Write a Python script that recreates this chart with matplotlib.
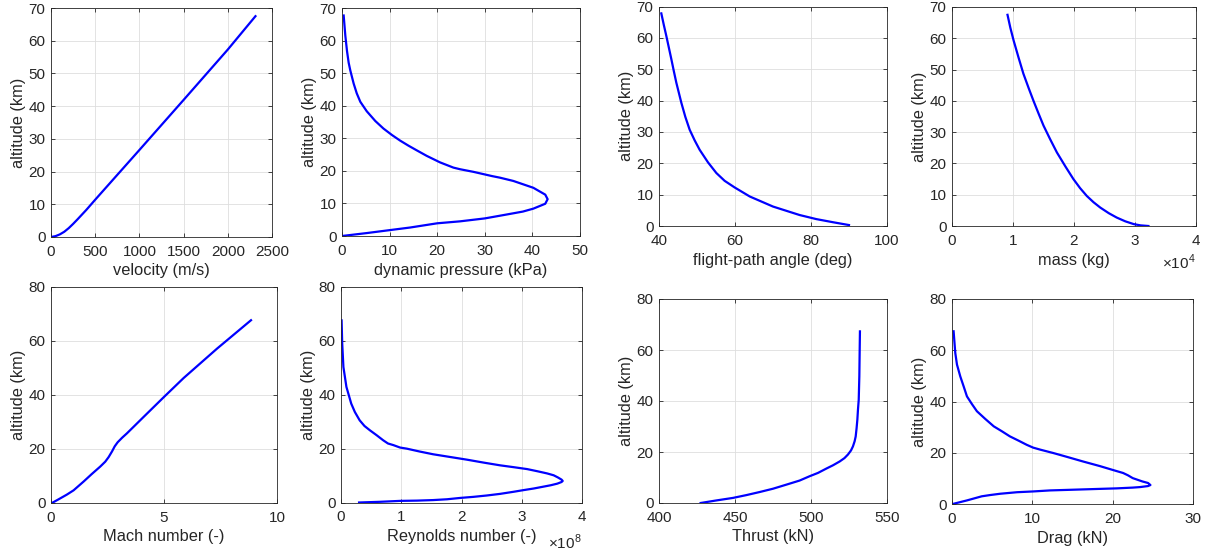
import matplotlib
matplotlib.use("Agg")
import matplotlib.pyplot as plt
from matplotlib.ticker import ScalarFormatter

plt.rcParams["font.family"] = ["Liberation Sans", "DejaVu Sans"]
plt.rcParams["mathtext.fontset"] = "custom"
plt.rcParams["mathtext.rm"] = "Liberation Sans"

# values (altitude in km)
vel = [0, 50, 100, 150, 200, 250, 300, 400, 500, 1000, 1500, 2000, 2313]
vel_alt = [0, 0.25, 0.8, 1.6, 2.7, 4.0, 5.4, 8.3, 11.4, 26.6, 41.9, 57.3, 67.5]

q = [0, 5.2, 10, 14.3, 20, 24.8, 30, 34.6, 38, 40.2, 42.7, 43.2, 42.7, 40.2,
     36, 33.2, 31.5, 29.7, 27.6, 24.8, 23.4, 22.0, 20.6, 19.9, 17.8, 15.7,
     14.0, 12.2, 10.5, 8.7, 7.0, 5.2, 3.85, 3.1, 2.45, 1.75, 1.4, 1.05, 0.7,
     0.35]
q_alt = [0, 0.9, 1.8, 2.6, 3.9, 4.5, 5.4, 6.6, 7.5, 8.4, 9.9, 11.3, 12.7,
         14.8, 16.9, 17.9, 18.4, 19.0, 19.7, 20.5, 21.0, 21.8, 22.6, 23.1,
         24.6, 26.3, 27.7, 29.3, 31.0, 33.0, 35.3, 38.3, 41.2, 43.8, 46.8,
         50.8, 53.2, 56.8, 61.5, 67.7]

gamma = [40.61, 41.27, 41.93, 42.59, 43.25, 43.90, 44.56, 45.22, 45.88, 46.93,
         48.07, 49.39, 50.70, 52.89, 55.09, 57.28, 59.9, 63.9, 70.0, 77.0,
         81.4, 85.8, 90.0]
gamma_alt = [67.8, 64.1, 60.6, 56.9, 53.2, 49.4, 45.7, 42.5, 39.3, 34.8,
             30.7, 27.3, 24.3, 20.3, 16.9, 14.4, 12.3, 9.4, 6.2, 3.5, 2.2,
             1.2, 0.3]

mass = [9100, 9560, 10100, 10900, 11700, 12600, 13400, 14200, 15000, 16100,
        17200, 18600, 19900, 21000, 22100, 23200, 24300, 25700, 27000, 28400,
        29800, 30900, 32200]
mass_alt = [67.5, 63.4, 59.3, 53.9, 48.7, 43.9, 39.8, 35.9, 32.1, 27.7, 23.5,
            19.0, 15.0, 12.1, 9.6, 7.6, 5.9, 4.1, 2.7, 1.5, 0.6, 0.2, 0]

mach = [0.04, 0.3, 0.7, 1.0, 1.45, 1.8, 2.18, 2.4, 2.55, 2.7, 2.82, 2.95,
        3.15, 3.36, 3.7, 4.1, 4.99, 5.87, 7.35, 8.85]
mach_alt = [0, 1.2, 3.1, 4.7, 8.0, 10.7, 13.5, 15.3, 17.0, 19.1, 21.0, 22.5,
            24.2, 25.8, 28.6, 31.9, 39.2, 46.3, 57.2, 67.7]

reyn = [0.30e8, 0.64e8, 0.98e8, 1.26e8, 1.53e8, 1.76e8, 1.98e8, 2.20e8,
        2.42e8, 2.64e8, 2.87e8, 3.03e8, 3.20e8, 3.34e8, 3.48e8, 3.59e8,
        3.66e8, 3.68e8, 3.66e8, 3.60e8, 3.53e8, 3.42e8, 3.26e8, 3.09e8,
        2.87e8, 2.64e8, 2.37e8, 2.09e8, 1.81e8, 1.53e8, 1.31e8, 1.09e8,
        0.98e8, 0.87e8, 0.78e8, 0.70e8, 0.59e8, 0.48e8, 0.39e8, 0.31e8,
        0.23e8, 0.17e8, 0.09e8, 0.04e8, 0.02e8, 0.01e8]
reyn_alt = [0, 0.25, 0.6, 0.7, 0.9, 1.2, 1.7, 2.1, 2.6, 3.2, 4.0, 4.6, 5.2,
            5.8, 6.4, 7.0, 7.6, 8.0, 8.5, 9.3, 10.1, 10.8, 11.6, 12.4, 13.1,
            13.8, 14.8, 15.9, 16.9, 17.9, 18.9, 20.0, 20.4, 21.3, 21.9, 23.1,
            25.0, 26.8, 28.4, 30.5, 33.6, 36.7, 42.9, 50.3, 59.0, 67.6]

thrust = [427.4, 437.7, 448.7, 457.5, 466.2, 475.0, 483.8, 492.5, 499.1,
          504.6, 510.1, 514.5, 518.9, 522.0, 524.3, 526.3, 527.6, 528.7,
          529.4, 530.0, 530.5, 530.9, 531.4, 531.6, 531.8, 532.0, 532.2]
thrust_alt = [0, 1.0, 2.0, 3.1, 4.3, 5.6, 7.2, 8.8, 10.5, 11.8, 13.5, 14.8,
              16.3, 17.6, 19.0, 20.6, 22.2, 24.2, 26.1, 29.4, 32.7, 36.6,
              40.5, 45.1, 49.7, 58.8, 67.3]

drag = [0.08, 1.86, 3.7, 4.76, 6.0, 8.1, 10.1, 12.2, 14.3, 18.4, 20.5, 22.5,
        23.4, 24.4, 24.7, 24.4, 23.7, 22.5, 21.9, 21.3, 20.0, 18.4, 16.3,
        14.3, 12.6, 11.0, 10.1, 9.3, 8.3, 7.2, 6.2, 5.2, 4.14, 3.1, 2.48,
        1.86, 1.45, 1.03, 0.62, 0.41, 0.2]
drag_alt = [0, 1.4, 3.0, 3.5, 4.0, 4.6, 4.9, 5.3, 5.5, 5.9, 6.1, 6.4, 6.6,
            7.0, 7.4, 8.2, 8.8, 10.1, 11.2, 12.1, 13.3, 14.8, 16.6, 18.4,
            19.9, 21.2, 22.0, 23.1, 24.7, 26.4, 28.4, 30.3, 33.2, 36.2, 39.0,
            42.0, 45.9, 49.8, 54.4, 58.9, 67.4]

W, H = 1210, 553
fig = plt.figure(figsize=(W / 100, H / 100), dpi=100)
txt = "#262626"


def panel(l, t, r, b, x, y, xlim, xticks, ylim, yticks, xlabel,
          sci=None, sci_y=-0.165):
    ax = fig.add_axes([l / W, 1 - b / H, (r - l) / W, (b - t) / H])
    ax.plot(x, y, color="#0000ff", lw=1.6)
    ax.set_xlim(xlim)
    ax.set_ylim(ylim)
    ax.set_xticks(xticks)
    ax.set_yticks(yticks)
    ax.grid(True, color="#dedede", lw=0.6)
    ax.set_axisbelow(True)
    ax.tick_params(direction="in", top=True, right=True, length=3,
                   width=0.6, colors=txt, labelsize=11)
    ax.tick_params(axis="x", pad=5.5)
    ax.tick_params(axis="y", pad=4)
    for s in ax.spines.values():
        s.set_color(txt)
        s.set_linewidth(0.6)
    ax.set_xlabel(xlabel, fontsize=11.8, color=txt, labelpad=3.5)
    ax.set_ylabel("altitude (km)", fontsize=11.8, color=txt, labelpad=2)
    if sci is not None:
        fmt = ScalarFormatter(useMathText=True)
        fmt.set_powerlimits((sci, sci))
        ax.xaxis.set_major_formatter(fmt)
        ax.xaxis.get_offset_text().set_visible(False)
        ax.text(1.0, sci_y, r"$\times10^{%d}$" % sci, transform=ax.transAxes,
                ha="right", va="center", fontsize=11, color=txt)
    return ax


panel(51, 8, 272, 237, vel, vel_alt, (0, 2500), range(0, 2501, 500),
      (0, 70), range(0, 71, 10), "velocity (m/s)")
panel(342, 8, 580, 236, q, q_alt, (0, 50), range(0, 51, 10),
      (0, 70), range(0, 71, 10), "dynamic pressure (kPa)")
panel(659, 6.5, 887, 226, gamma, gamma_alt, (40, 100), range(40, 101, 20),
      (0, 70), range(0, 71, 10), "flight-path angle (deg)")
panel(952, 7, 1196, 226, mass, mass_alt, (0, 4e4), [0, 1e4, 2e4, 3e4, 4e4],
      (0, 70), range(0, 71, 10), "mass (kg)", sci=4, sci_y=-0.164)
panel(51, 287, 277, 503, mach, mach_alt, (0, 10), [0, 5, 10],
      (0, 80), range(0, 81, 20), "Mach number (-)")
panel(341, 287, 582, 502.5, reyn, reyn_alt, (0, 4e8),
      [0, 1e8, 2e8, 3e8, 4e8], (0, 80), range(0, 81, 20),
      "Reynolds number (-)", sci=8, sci_y=-0.186)
panel(659, 299, 887, 503, thrust, thrust_alt, (400, 550), range(400, 551, 50),
      (0, 80), range(0, 81, 20), "Thrust (kN)")
panel(952, 299, 1193, 504, drag, drag_alt, (0, 30), range(0, 31, 10),
      (0, 80), range(0, 81, 20), "Drag (kN)")

fig.savefig("out.png", dpi=100, facecolor="white")
